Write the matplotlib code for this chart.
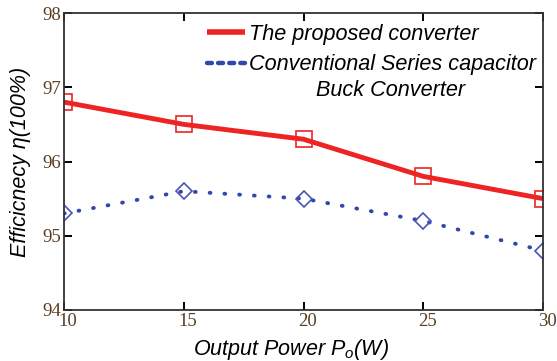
import matplotlib
matplotlib.use("Agg")
import matplotlib.pyplot as plt
import matplotlib.transforms as mtransforms
from matplotlib.lines import Line2D

# output power (W)
power = [10, 15, 20, 25, 30]
# efficiency (%)
eff_proposed = [96.8, 96.5, 96.3, 95.8, 95.5]
eff_conventional = [95.3, 95.6, 95.5, 95.2, 94.8]

label_proposed = "The proposed converter"
label_conventional = "Conventional Series capacitor"
label_conventional_2 = "Buck Converter"

plt.rcParams["mathtext.fontset"] = "custom"
plt.rcParams["mathtext.it"] = "Liberation Sans:italic"
plt.rcParams["mathtext.rm"] = "Liberation Sans:italic"

red = "#ee2424"
blue = "#3047ae"
font = {"family": "Liberation Sans", "style": "italic", "size": 15.6}

fig = plt.figure(figsize=(5.57, 3.61), dpi=100)
ax = fig.add_axes([64 / 557, 51 / 361, 479 / 557, 297 / 361])

ax.plot(power, eff_proposed, color=red, lw=3.5, solid_capstyle="butt")
ax.plot(power, eff_proposed, ls="none", marker="s", ms=11, mfc="none",
        mec=red, mew=1.2)

ax.plot(power, eff_conventional, color=blue, lw=2.8, ls=(0, (0.2, 3.6)),
        dash_capstyle="round")
ax.plot(power, eff_conventional, ls="none", marker="D", ms=8.5, mfc="none",
        mec="#4a55b8", mew=1.2)

ax.set_xlim(10, 30)
ax.set_ylim(94, 98)
ax.set_xticks([10, 15, 20, 25, 30])
ax.set_yticks([94, 95, 96, 97, 98])
ax.tick_params(direction="in", length=6, width=1.4, top=True, right=True,
               labelsize=13.5, labelcolor="#5a3e22", pad=2)
shift = mtransforms.ScaledTranslation(4 / 100, 0, fig.dpi_scale_trans)
for lab in ax.get_xticklabels():
    lab.set_family("Liberation Serif")
    lab.set_transform(lab.get_transform() + shift)
for lab in ax.get_yticklabels():
    lab.set_family("Liberation Serif")
for sp in ax.spines.values():
    sp.set_linewidth(1.3)
    sp.set_color("#333333")

ax.set_xlabel("Output Power $P_o$(W)", fontsize=15.5, style="italic",
              family="Liberation Sans", labelpad=5)
ax.xaxis.label.set_x(0.474)
ax.set_ylabel("Efficicnecy η(100%)", fontsize=15.5, style="italic",
              family="Liberation Sans", labelpad=8)

handles = [Line2D([], [], color=red, lw=4, solid_capstyle="butt"),
           Line2D([], [], color=blue, lw=3.2, ls=(0, (1.1, 1.4)),
                  dash_capstyle="round")]
leg = fig.legend(handles, [label_proposed, label_conventional],
                 loc="upper left", bbox_to_anchor=(207 / 557, 337 / 361),
                 frameon=False, handlelength=1.75, handletextpad=0.2,
                 borderpad=0, borderaxespad=0, labelspacing=0.42, prop=font)
fig.text(391 / 557, 1 - 90 / 361, label_conventional_2, ha="center",
         va="center", **font)

fig.savefig("out.png", dpi=100)
